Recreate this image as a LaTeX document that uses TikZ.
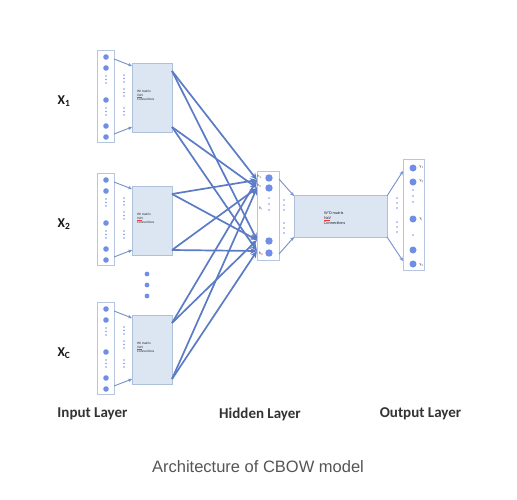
\documentclass[tikz,border=0pt]{standalone}
\usepackage{fontspec}
\setmainfont{Carlito}
\newfontfamily\capfont{Liberation Sans}
\usetikzlibrary{arrows.meta}
\definecolor{lineblue}{HTML}{5B7CC4}
\definecolor{ballblue}{HTML}{6F8FE6}
\definecolor{boxfill}{HTML}{DCE5F2}
\definecolor{boxdraw}{HTML}{AFC0DA}
\definecolor{coldraw}{HTML}{B6C6E0}
\definecolor{capgray}{HTML}{555555}
\definecolor{labgray}{HTML}{333333}
\tikzset{
  colrect/.style={draw=coldraw, line width=0.9pt, fill=white, inner sep=0pt},
  matbox/.style={draw=boxdraw, line width=0.7pt, fill=boxfill, inner sep=0pt},
  inball/.style={circle, fill=ballblue, inner sep=0pt, minimum size=5.6pt},
  hball/.style={circle, fill=ballblue, inner sep=0pt, minimum size=7.4pt},
  tinydot/.style={circle, fill=ballblue!90, inner sep=0pt, minimum size=1.8pt},
  bigdot/.style={circle, fill=ballblue, inner sep=0pt, minimum size=4.8pt},
  mattext/.style={font=\fontsize{3.4}{4.4}\selectfont, align=left, inner sep=0pt, text=black!85},
  wtext/.style={font=\fontsize{4.2}{5.4}\selectfont, align=left, inner sep=0pt, text=black!85},
  tinylab/.style={font=\fontsize{4}{4}\selectfont, inner sep=0pt, text=black!80},
  thinarrow/.style={draw=lineblue!85, line width=0.9pt, -{Stealth[length=4pt,width=3.5pt]}},
  bigarrow/.style={draw=lineblue, line width=1.7pt, -{Stealth[length=7pt,width=6pt]}},
  xlab/.style={font=\fontsize{13.5}{13.5}\selectfont\bfseries, text=black!90, inner sep=0pt},
  laylab/.style={font=\fontsize{15}{15}\selectfont\bfseries, text=labgray, inner sep=0pt},
}
\begin{document}
\begin{tikzpicture}[x=1pt,y=-1pt]
\useasboundingbox[fill=white] (0,0) rectangle (517,499);

% ---------- input blocks ----------
\foreach \k/\dy/\sub in {1/0/1,2/123/2,3/252/C}{
\begin{scope}[yshift=-\dy pt]
  \node[colrect, minimum width=17pt, minimum height=92pt] (col\k) at (105.5,96) {};
  \foreach \yy in {57,68,100,126,137} \node[inball] at (106,\yy) {};
  \foreach \yy in {76,79.5,83,108,111.5,115} \node[tinydot] at (106,\yy) {};
  \foreach \yy in {75,78.5,82,89,92.5,96,108,111.5,115} \node[tinydot] at (124,\yy) {};
  \node[matbox, minimum width=40pt, minimum height=69pt] (mat\k) at (152,97.5) {};
  \node[mattext, anchor=north west] (mt\k) at (137,89.5) {WI matrix\\VxN\\Connections};
  \draw[red!80, line width=0.35pt] (137,97.0) -- (141.5,97.0);
  \coordinate (ca\k) at (114,59);
  \coordinate (cb\k) at (114,134);
  \coordinate (ma\k) at (132,66);
  \coordinate (mb\k) at (132,127);
  \draw[thinarrow] (ca\k) -- (ma\k);
  \draw[thinarrow] (cb\k) -- (mb\k);
  \coordinate (sa\k) at (172,71);
  \coordinate (sb\k) at (172,127);
  \node[xlab] (x\k) at (64,101.5) {X\textsubscript{\sub}};
\end{scope}
}

% dots between block 2 and block C
\foreach \yy in {274,285,296} \node[bigdot] at (147,\yy) {};

% ---------- hidden layer ----------
\node[colrect, minimum width=22pt, minimum height=89pt] (hid) at (268,215.5) {};
\foreach \yy in {178,188,241,253} \node[hball] at (269,\yy) {};
\foreach \yy in {198,204,210} \node[tinydot] at (269,\yy) {};
\foreach \yy in {200,205,210,223,228,233} \node[tinydot] at (284,\yy) {};
\node[tinylab] (h1) at (259.5,177) {h\textsubscript{1}};
\node[tinylab] (h2) at (259.5,186) {h\textsubscript{2}};
\node[tinylab] (hi) at (261,209) {h\textsubscript{\textcolor{red}{i}}};
\node[tinylab] (hN) at (261,254) {h\textsubscript{\textcolor{red}{N}}};

\coordinate (t1) at (257,180);
\coordinate (t2) at (257,188);
\coordinate (t3) at (257,240);
\coordinate (t4) at (257,251);

\foreach \k in {1,2,3}{
  \draw[bigarrow] (sa\k) -- (t1);
  \draw[bigarrow] (sa\k) -- (t3);
  \draw[bigarrow] (sb\k) -- (t2);
  \draw[bigarrow] (sb\k) -- (t4);
}

% ---------- W' matrix ----------
\node[matbox, minimum width=93pt, minimum height=42pt] (wbox) at (340.5,216) {};
\node[wtext, anchor=north west] (wt) at (324,211) {W'D matrix\\NxV\\Connections};
\draw[red!80, line width=0.35pt] (324,220.5) -- (330,220.5);
\coordinate (ha) at (279,179);
\coordinate (hb) at (279,254);
\coordinate (wa) at (294,196);
\coordinate (wb) at (294,237);
\draw[thinarrow] (ha) -- (wa);
\draw[thinarrow] (hb) -- (wb);
\coordinate (wc) at (387,196);
\coordinate (wd) at (387,237);
\coordinate (oa) at (403,171);
\coordinate (ob) at (403,261);
\draw[thinarrow] (wc) -- (oa);
\draw[thinarrow] (wd) -- (ob);
\foreach \yy in {198,203,208,222,227,232} \node[tinydot] at (397,\yy) {};

% ---------- output layer ----------
\node[colrect, minimum width=21pt, minimum height=111pt] (out) at (413.5,214.5) {};
\foreach \yy in {168,182,219,250,264} \node[hball, minimum size=7pt] at (413,\yy) {};
\foreach \yy in {190,196,202,235} \node[tinydot] at (413,\yy) {};
\node[tinylab, anchor=west] (y1) at (419.5,167) {y\textsubscript{1}};
\node[tinylab, anchor=west] (y2) at (419.5,181) {y\textsubscript{2}};
\node[tinylab, anchor=west] (yj) at (419.5,219) {y\textsubscript{\textcolor{red}{j}}};
\node[tinylab, anchor=west] (yV) at (419.5,265) {y\textsubscript{\textcolor{red}{V}}};

% ---------- labels ----------
\node[laylab] (lin) at (92.5,414) {Input Layer};
\node[laylab] (lhid) at (260,414) {Hidden Layer};
\node[laylab] (lout) at (420.5,414) {Output Layer};
\node[font=\capfont\fontsize{16.5}{16.5}\selectfont, text=capgray, inner sep=0pt] (cap) at (258,466.5) {Architecture of CBOW model};
\end{tikzpicture}
\end{document}
